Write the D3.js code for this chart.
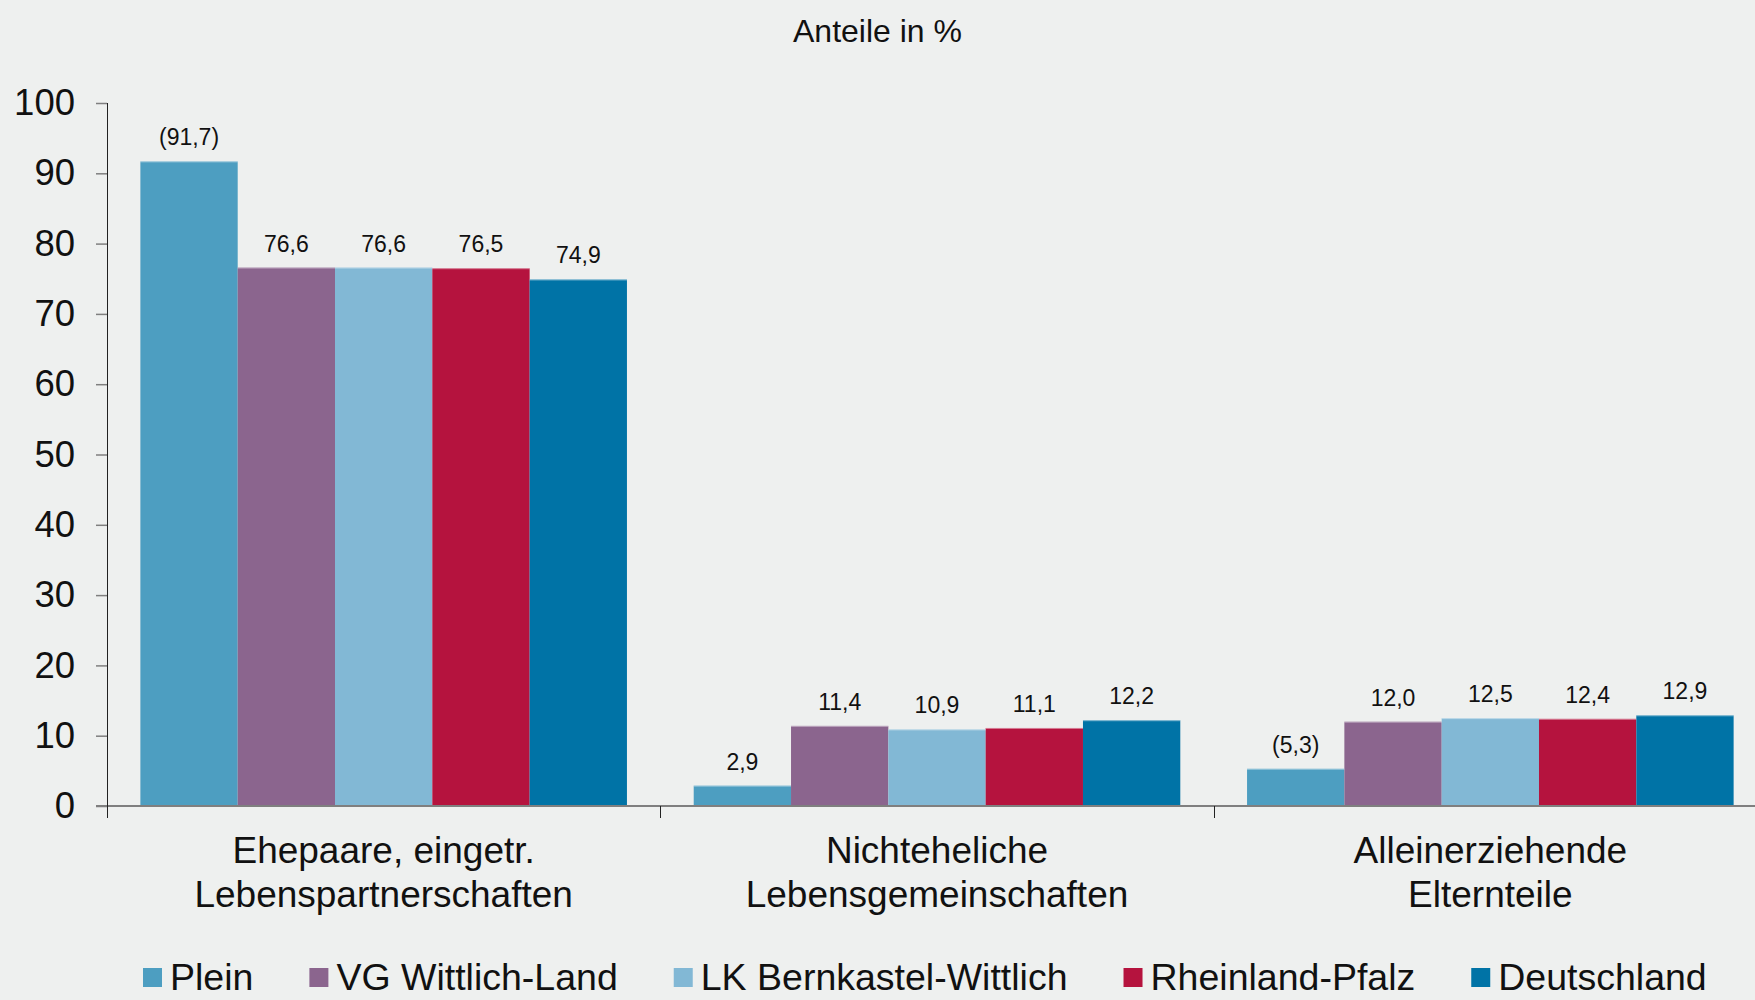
<!DOCTYPE html>
<html lang="de">
<head>
<meta charset="UTF-8">
<title>Anteile in %</title>
<script src="https://d3js.org/d3.v7.min.js"></script>
<style>
  body { margin: 0; background: #eef0ef; }
  svg { display: block; font-family: "Liberation Sans", Arial, sans-serif; }
</style>
</head>
<body>
<script>
  // categories (two-line labels) and series
  const categories = ["Ehepaare", "Nichteheliche", "Alleinerziehende"]
  const categoryLines = [
    ["Ehepaare, eingetr.", "Lebenspartnerschaften"],
    ["Nichteheliche", "Lebensgemeinschaften"],
    ["Alleinerziehende", "Elternteile"]
  ]
  const series = ["Plein", "VG Wittlich-Land", "LK Bernkastel-Wittlich", "Rheinland-Pfalz", "Deutschland"]
  const colors = ["#4d9ec1", "#8b658e", "#82b8d5", "#b5133e", "#0073a6"]

  // values per series, one per category
  const plein      = [91.7, 2.9, 5.3]
  const vgWittlich = [76.6, 11.4, 12.0]
  const lkBernk    = [76.6, 10.9, 12.5]
  const rlp        = [76.5, 11.1, 12.4]
  const deutsch    = [74.9, 12.2, 12.9]
  // values shown in brackets (low case numbers)
  const pleinBracket = [true, false, true]

  const yTicks = [0, 10, 20, 30, 40, 50, 60, 70, 80, 90, 100]

  const allValues = [plein, vgWittlich, lkBernk, rlp, deutsch]
  const data = []
  categories.forEach((c, ci) => {
    series.forEach((s, si) => {
      data.push({
        cat: c, ser: s, si: si,
        value: allValues[si][ci],
        bracket: si === 0 && pleinBracket[ci]
      })
    })
  })

  const W = 1755, H = 1000
  const svg = d3.select("body").append("svg")
    .attr("width", W).attr("height", H)

  svg.append("rect").attr("width", W).attr("height", H).attr("fill", "#eef0ef")

  const x0 = d3.scaleBand().domain(categories).range([107, 1767])
  const x1 = d3.scaleBand().domain(series).range([0, x0.bandwidth()])
    .paddingInner(0).paddingOuter(0.343)
  const y = d3.scaleLinear().domain([0, 100]).range([806, 103])

  const fmt = v => d3.format(".1f")(v).replace(".", ",")

  // title
  svg.append("text")
    .attr("x", W / 2).attr("y", 42)
    .attr("text-anchor", "middle")
    .attr("font-size", 32)
    .attr("fill", "#111")
    .text("Anteile in %")

  // bars
  const bars = svg.append("g")
  bars.selectAll("rect")
    .data(data)
    .join("rect")
    .attr("x", d => x0(d.cat) + x1(d.ser))
    .attr("y", d => y(d.value))
    .attr("width", x1.bandwidth())
    .attr("height", d => y(0) - y(d.value))
    .attr("fill", d => colors[d.si])

  // thin light top edge
  bars.selectAll("line")
    .data(data)
    .join("line")
    .attr("x1", d => x0(d.cat) + x1(d.ser))
    .attr("x2", d => x0(d.cat) + x1(d.ser) + x1.bandwidth())
    .attr("y1", d => y(d.value) + 0.5)
    .attr("y2", d => y(d.value) + 0.5)
    .attr("stroke", "#ffffff")
    .attr("stroke-opacity", 0.45)

  // value labels
  svg.append("g").selectAll("text")
    .data(data)
    .join("text")
    .attr("x", d => x0(d.cat) + x1(d.ser) + x1.bandwidth() / 2)
    .attr("y", d => y(d.value) - 16)
    .attr("text-anchor", "middle")
    .attr("font-size", 23)
    .attr("fill", "#111")
    .text(d => d.bracket ? "(" + fmt(d.value) + ")" : fmt(d.value))

  // y axis
  const yAxis = svg.append("g")
    .attr("transform", "translate(107,0)")
    .call(d3.axisLeft(y).tickValues(yTicks).tickSize(11).tickPadding(21).tickFormat(d3.format("d")))
  yAxis.select(".domain").remove()
  yAxis.selectAll(".tick line").attr("stroke", "#7f7f7f").attr("stroke-width", 1.5)
  yAxis.selectAll(".tick text")
    .attr("font-size", 36.5)
    .attr("font-family", "Liberation Sans, Arial, sans-serif")
    .attr("fill", "#111")

  // x axis baseline
  svg.append("line")
    .attr("x1", 96).attr("x2", W)
    .attr("y1", y(0)).attr("y2", y(0))
    .attr("stroke", "#7f7f7f").attr("stroke-width", 2)

  // y axis line
  svg.append("line")
    .attr("x1", 107.5).attr("x2", 107.5)
    .attr("y1", y(100)).attr("y2", y(0) + 12)
    .attr("stroke", "#222").attr("stroke-width", 1)

  // category separators
  svg.append("g").selectAll("line")
    .data(categories.slice(1))
    .join("line")
    .attr("x1", d => Math.round(x0(d)) + 0.5)
    .attr("x2", d => Math.round(x0(d)) + 0.5)
    .attr("y1", y(0)).attr("y2", y(0) + 12)
    .attr("stroke", "#222").attr("stroke-width", 1)

  // category labels
  const catLabels = svg.append("g").selectAll("text")
    .data(categories)
    .join("text")
    .attr("x", d => x0(d) + x0.bandwidth() / 2)
    .attr("y", 863)
    .attr("text-anchor", "middle")
    .attr("font-size", 37)
    .attr("fill", "#111")
  catLabels.each(function(d, i) {
    d3.select(this).selectAll("tspan")
      .data(categoryLines[i])
      .join("tspan")
      .attr("x", x0(d) + x0.bandwidth() / 2)
      .attr("dy", (t, j) => j === 0 ? 0 : 44)
      .text(t => t)
  })

  // legend
  const legend = svg.append("g")
  let lx = 143
  series.forEach((s, i) => {
    legend.append("rect")
      .attr("x", lx).attr("y", 968)
      .attr("width", 19).attr("height", 19)
      .attr("fill", colors[i])
    const t = legend.append("text")
      .attr("x", lx + 27).attr("y", 990)
      .attr("font-size", 37.5)
      .attr("fill", "#111")
      .text(s)
    lx += 27 + t.node().getComputedTextLength() + 56
  })
</script>
</body>
</html>
